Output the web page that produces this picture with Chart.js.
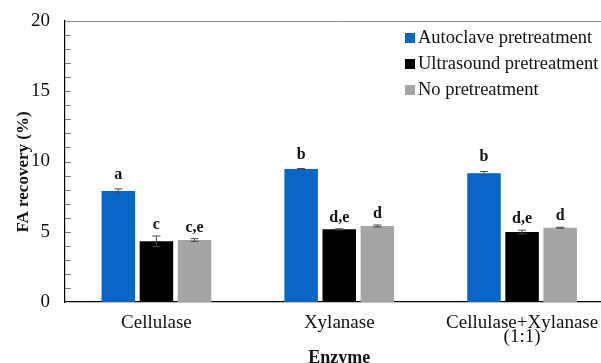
<!DOCTYPE html>
<html>
<head>
<meta charset="utf-8">
<script src="https://cdn.jsdelivr.net/npm/chart.js@4.4.1/dist/chart.umd.min.js"></script>
<style>
  html, body { margin: 0; padding: 0; background: #fff; overflow: hidden; }
  #wrap { width: 620px; height: 375px; }
</style>
</head>
<body>
<div id="wrap"><canvas id="c" width="620" height="375"></canvas></div>
<script>
// Enzyme categories (second line of the last one wraps)
const categories = ['Cellulase', 'Xylanase', ['Cellulase+Xylanase', '(1:1)']];
const seriesNames = ['Autoclave pretreatment', 'Ultrasound pretreatment', 'No pretreatment'];

// FA recovery (%) means
const autoclave = [7.9, 9.47, 9.17];
const ultrasound = [4.32, 5.17, 4.98];
const noPretreat = [4.41, 5.41, 5.29];

// Standard deviations
const autoclaveErr = [0.15, 0.03, 0.12];
const ultrasoundErr = [0.38, 0.04, 0.13];
const noPretreatErr = [0.1, 0.07, 0.03];

// Significance letters
const autoclaveLetters = ['a', 'b', 'b'];
const ultrasoundLetters = ['c', 'd,e', 'd,e'];
const noPretreatLetters = ['c,e', 'd', 'd'];

const yTicks = [0, 5, 10, 15, 20];
const yTitle = 'FA recovery (%)';

const SERIF = '"Liberation Serif", "Times New Roman", serif';

const errorBars = {
  id: 'errorBars',
  afterDatasetsDraw(chart) {
    const { ctx, scales: { y } } = chart;
    ctx.save();
    chart.data.datasets.forEach((ds, di) => {
      const meta = chart.getDatasetMeta(di);
      meta.data.forEach((bar, i) => {
        const v = ds.data[i], e = ds.errors[i];
        const yTop = y.getPixelForValue(v + e);
        const yBot = y.getPixelForValue(v - e);
        ctx.strokeStyle = '#4a4a4a';
        ctx.lineWidth = 1;
        ctx.beginPath();
        ctx.moveTo(bar.x, yTop); ctx.lineTo(bar.x, yBot);
        ctx.moveTo(bar.x - 4, yTop); ctx.lineTo(bar.x + 4, yTop);
        ctx.moveTo(bar.x - 4, yBot); ctx.lineTo(bar.x + 4, yBot);
        ctx.stroke();
        ctx.fillStyle = '#111';
        ctx.font = 'bold 16px ' + SERIF;
        ctx.textAlign = 'center';
        ctx.textBaseline = 'alphabetic';
        ctx.fillText(ds.letters[i], bar.x, yTop - ds.letterGap);
      });
    });
    ctx.restore();
  }
};

const frame = {
  id: 'frame',
  beforeDatasetsDraw(chart) {
    const { ctx, chartArea: a, scales: { y } } = chart;
    ctx.save();
    // top border of the plot frame
    ctx.strokeStyle = '#8c8c8c';
    ctx.lineWidth = 1;
    ctx.beginPath();
    ctx.moveTo(a.left, a.top + 0.5); ctx.lineTo(a.right, a.top + 0.5);
    ctx.stroke();
    // inward minor ticks on the value axis
    ctx.strokeStyle = '#7a7a7a';
    ctx.beginPath();
    for (let v = 1; v < 20; v++) {
      const py = Math.round(y.getPixelForValue(v)) + 0.5;
      ctx.moveTo(a.left, py); ctx.lineTo(a.left + 6, py);
    }
    ctx.stroke();
    ctx.restore();
  },
  afterDraw(chart) {
    const { ctx } = chart;
    ctx.save();
    // value axis title
    ctx.translate(24, 172);
    ctx.rotate(-Math.PI / 2);
    ctx.font = 'bold 17px ' + SERIF;
    ctx.fillStyle = '#111';
    ctx.textAlign = 'center';
    ctx.textBaseline = 'middle';
    ctx.fillText(yTitle, 0, 0);
    ctx.restore();

    // legend in the upper right of the plot
    ctx.save();
    ctx.font = '18.5px ' + SERIF;
    ctx.textBaseline = 'middle';
    ctx.textAlign = 'left';
    chart.data.datasets.forEach((ds, i) => {
      const cy = 38 + i * 26;
      ctx.fillStyle = ds.backgroundColor;
      ctx.fillRect(405, cy - 5, 10, 10);
      ctx.fillStyle = '#111';
      ctx.fillText(ds.label, 418, cy);
    });
    ctx.restore();
  }
};

new Chart(document.getElementById('c'), {
  type: 'bar',
  data: {
    labels: categories,
    datasets: [
      { label: seriesNames[0], data: autoclave, errors: autoclaveErr, letters: autoclaveLetters, letterGap: 10, backgroundColor: '#0866c8' },
      { label: seriesNames[1], data: ultrasound, errors: ultrasoundErr, letters: ultrasoundLetters, letterGap: 7, backgroundColor: '#000000' },
      { label: seriesNames[2], data: noPretreat, errors: noPretreatErr, letters: noPretreatLetters, letterGap: 7, backgroundColor: '#a5a5a5' }
    ]
  },
  options: {
    responsive: false,
    animation: false,
    devicePixelRatio: 1,
    layout: { padding: { top: 21, right: 6.5, left: 0, bottom: 0 } },
    datasets: { bar: { categoryPercentage: 0.625, barPercentage: 0.88 } },
    plugins: { legend: { display: false }, tooltip: { enabled: false } },
    scales: {
      x: {
        grid: { display: false, drawTicks: false },
        border: { color: '#000', width: 1.2 },
        ticks: { color: '#111', font: { family: SERIF, size: 19, lineHeight: '14.5px' }, padding: 13.5, maxRotation: 0, autoSkip: false },
        title: { display: true, text: 'Enzyme', color: '#111', font: { family: SERIF, size: 18, weight: 'bold' }, padding: { top: 0, bottom: 5.5 } },
        afterFit(s) { s.height = 73; }
      },
      y: {
        min: 0, max: 20,
        afterBuildTicks(s) { s.ticks = yTicks.map(v => ({ value: v })); },
        grid: { display: false, drawTicks: false },
        border: { color: '#000', width: 1.2 },
        ticks: { color: '#111', font: { family: SERIF, size: 19 }, padding: 15 },
        title: { display: false },
        afterFit(s) { s.width = 65; s.paddingTop = 0; s.paddingBottom = 0; }
      }
    }
  },
  plugins: [frame, errorBars]
});
</script>
</body>
</html>
